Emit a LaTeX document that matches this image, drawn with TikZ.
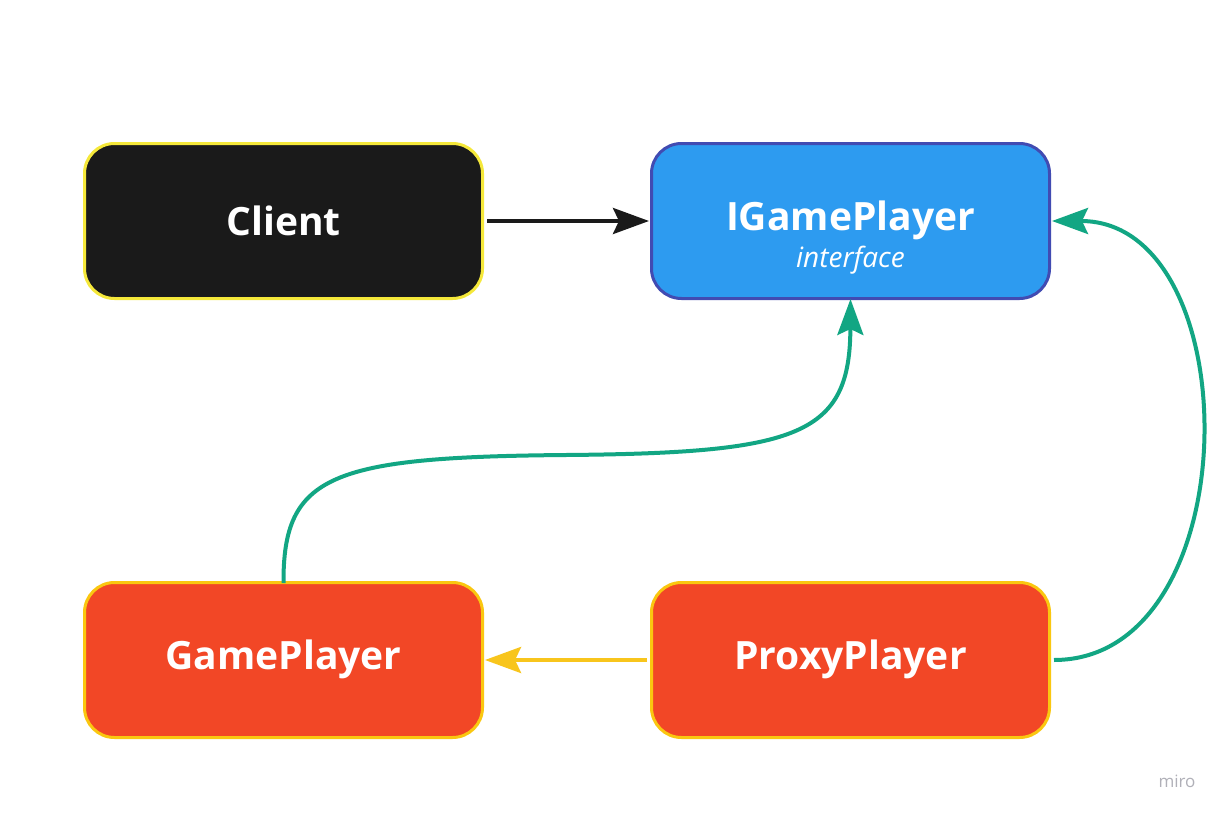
\documentclass[tikz,border=0pt]{standalone}
\usepackage{fontspec}
\setmainfont{Open Sans}
\usetikzlibrary{arrows.meta}
\definecolor{clientfill}{HTML}{1A1A1A}
\definecolor{clientborder}{HTML}{F5E83A}
\definecolor{ifill}{HTML}{2D9BF0}
\definecolor{iborder}{HTML}{414BB2}
\definecolor{rfill}{HTML}{F24726}
\definecolor{rborder}{HTML}{FAC710}
\definecolor{grn}{HTML}{12A683}
\definecolor{ylw}{HTML}{F8C51C}
\definecolor{wm}{HTML}{B0B0B8}
\tikzset{
  box/.style={rounded corners=30pt, line width=3pt, minimum width=398pt, minimum height=155pt, inner sep=0pt},
  boxtext/.style={text=white, font=\fontsize{39}{44}\selectfont\bfseries, inner sep=0pt},
  conn/.style={line width=4pt, -{Stealth[length=36pt,width=26pt,inset=6pt]}},
}
\begin{document}
\begin{tikzpicture}[x=1pt,y=-1pt]
\useasboundingbox[fill=white] (0,0) rectangle (1224,816);
\node[box, fill=clientfill, draw=clientborder] (client) at (283.5,221) {};
\node[boxtext] (clientt) at (283.5,220.5) {Client};
\node[box, fill=ifill, draw=iborder] (igp) at (850.5,221) {};
\node[boxtext] (igpt) at (850.5,220.5) {IGamePlayer};
\node[text=white, font=\fontsize{28}{32}\selectfont\itshape, inner sep=0pt] (igpi) at (850.5,260) {interface};
\node[box, fill=rfill, draw=rborder] (gp) at (283.5,660) {};
\node[boxtext] (gpt) at (283.5,659.5) {GamePlayer};
\node[box, fill=rfill, draw=rborder] (pp) at (850.5,660) {};
\node[boxtext] (ppt) at (850.5,659.5) {ProxyPlayer};
\coordinate (mid) at (566,455);
\draw[conn, draw=clientfill] ([xshift=3pt]client.east) -- ([xshift=-1pt]igp.west);
\draw[conn, draw=ylw] ([xshift=-3pt]pp.west) -- ([xshift=1pt]gp.east);
\draw[conn, draw=grn] ([yshift=-2pt]gp.north) .. controls (283,475) and (330,457) .. (mid) .. controls (800,453) and (850,435) .. ([yshift=1pt]igp.south);
\draw[conn, draw=grn] ([xshift=3pt]pp.east) .. controls (1250,660) and (1250,221) .. ([xshift=1pt]igp.east);
\node[text=wm, font=\fontsize{17}{19}\selectfont] (miro) at (1177,781) {miro};
\end{tikzpicture}
\end{document}
